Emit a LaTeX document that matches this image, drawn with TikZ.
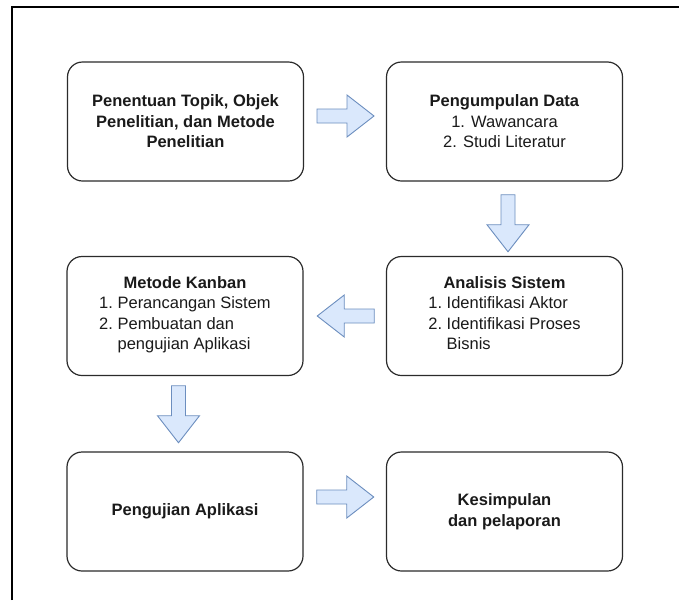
\documentclass[tikz,border=0pt]{standalone}
\usepackage{fontspec}
\setmainfont{Liberation Sans}
\usetikzlibrary{calc}
\definecolor{arrowfill}{HTML}{DAE8FC}
\definecolor{arrowline}{HTML}{6C8EBF}
\definecolor{boxline}{HTML}{2B2B2B}
\definecolor{txt}{HTML}{1A1A1A}
\tikzset{
  stepbox/.style={draw=boxline, line width=1.2pt, rounded corners=15pt, fill=white,
    minimum width=236pt, minimum height=119pt, inner sep=0pt, align=center,
    text=txt, font=\fontsize{16.5}{20.5}\selectfont},
  barrow/.style={draw=arrowline, fill=arrowfill, line width=0.9pt, line join=miter},
  blockarrow/.pic={\path[barrow] (-28.5,-7) -- (1.5,-7) -- (1.5,-21) -- (28.5,0) -- (1.5,21) -- (1.5,7) -- (-28.5,7) -- cycle;}
}
\newcommand{\listblock}[1]{\begin{tabular}[t]{@{}r@{\ }l@{}}#1\end{tabular}}
\begin{document}
\begin{tikzpicture}[x=1pt,y=-1pt]
\useasboundingbox (0,0) rectangle (679,600);
\fill[white] (0,0) rectangle (679,600);
\coordinate (fbl) at (12,600);
\coordinate (ftl) at (12,7);
\coordinate (ftr) at (679,7);
\draw[line width=1.3pt, black] (fbl) -- (ftl) -- (ftr);

\node[stepbox] (b1) at (185.5,121.5) {\textbf{Penentuan Topik, Objek}\\\textbf{Penelitian, dan Metode}\\\textbf{Penelitian}};
\node[stepbox] (b2) at (504.5,121.5) {\textbf{Pengumpulan Data}\\1. Wawancara\\2. Studi Literatur};
\node[stepbox] (b3) at (185,316) {\textbf{Metode Kanban}\\\listblock{1. & Perancangan Sistem\\ 2. & Pembuatan dan\\ & pengujian Aplikasi}};
\node[stepbox] (b4) at (504.5,316) {\textbf{Analisis Sistem}\\\listblock{1. & Identifikasi Aktor\\ 2. & Identifikasi Proses\\ & Bisnis}};
\node[stepbox] (b5) at (185,511.5) {\textbf{Pengujian Aplikasi}};
\node[stepbox] (b6) at (504.5,511.5) {\textbf{Kesimpulan}\\\textbf{dan pelaporan}};

\coordinate (a12) at ($(b1.east)!0.5!(b2.west)+(0.5,-5.5)$);
\coordinate (a24) at ($(b2.south)!0.5!(b4.north)+(3.5,4.5)$);
\coordinate (a43) at ($(b4.west)!0.5!(b3.east)+(1,0)$);
\coordinate (a35) at ($(b3.south)!0.5!(b5.north)+(-6.5,0.5)$);
\coordinate (a56) at ($(b5.east)!0.5!(b6.west)+(0.5,-14.5)$);

\pic at (a12) {blockarrow};
\pic[rotate=-90] at (a24) {blockarrow};
\pic[rotate=180] at (a43) {blockarrow};
\pic[rotate=-90] at (a35) {blockarrow};
\pic at (a56) {blockarrow};
\end{tikzpicture}
\end{document}
